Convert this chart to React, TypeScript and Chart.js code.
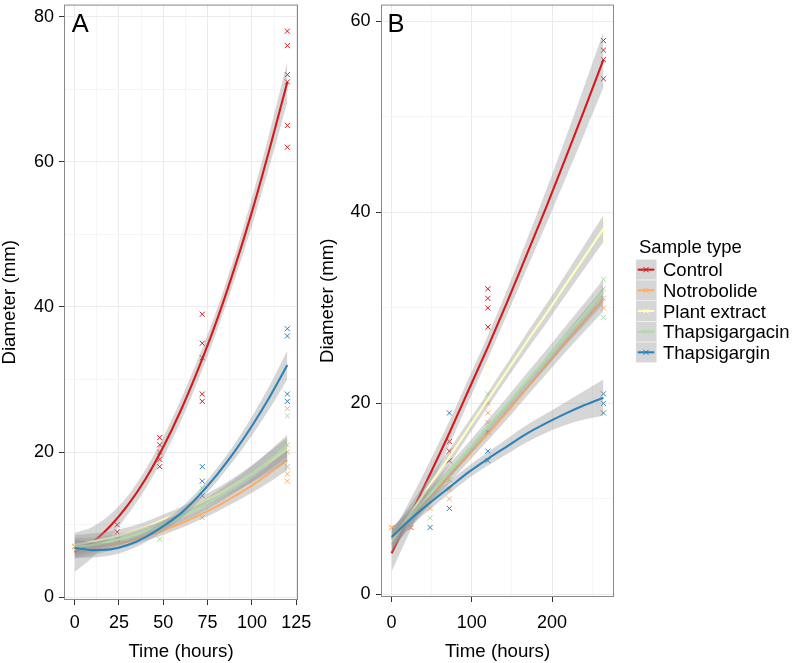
import React, { useEffect, useRef } from 'react';
import { Chart, registerables } from 'chart.js';

Chart.register(...registerables);

type Pt = [number, number];

// ---------------- data ----------------
const seriesNames = ['Control', 'Notrobolide', 'Plant extract', 'Thapsigargacin', 'Thapsigargin'];

// Panel A axes
const xMajorA = [0, 25, 50, 75, 100, 125];
const xMinorA = [12.5, 37.5, 62.5, 87.5, 112.5];
const yMajorA = [0, 20, 40, 60, 80];
const yMinorA = [10, 30, 50, 70];

// Panel A observations [time, diameter]
const ptsA_Control: Pt[] = [[0, 7], [24, 10], [24, 9], [24, 8], [48, 22], [48, 21], [48, 20], [48, 19], [48, 18], [72, 39], [72, 35], [72, 33], [72, 28], [72, 27], [120, 78], [120, 76], [120, 72], [120, 71], [120, 65], [120, 62]];
const ptsA_Notrobolide: Pt[] = [[0, 7], [72, 11], [120, 26], [120, 20], [120, 18], [120, 17], [120, 16]];
const ptsA_PlantExtract: Pt[] = [[72, 17], [72, 13], [120, 21]];
const ptsA_Thapsigargacin: Pt[] = [[48, 8], [72, 15], [120, 25], [120, 21]];
const ptsA_Thapsigargin: Pt[] = [[72, 18], [72, 16], [72, 14], [120, 37], [120, 36], [120, 28], [120, 27]];

// Panel A smooth fits and standard-error half widths
const fitTimeA = [0, 10, 20, 30, 40, 50, 60, 70, 80, 90, 100, 110, 120];
const fitA_Control = [6.2, 7.6, 9.8, 12.7, 16.3, 20.7, 25.8, 31.6, 38.0, 45.2, 53.1, 61.8, 71.0];
const seA_Control = [2.7, 2.1, 1.6, 1.3, 1.3, 1.4, 1.5, 1.5, 1.5, 1.6, 1.9, 2.3, 2.8];
const fitA_Notrobolide = [6.6, 6.8, 7.2, 7.7, 8.4, 9.2, 10.2, 11.3, 12.5, 13.9, 15.4, 17.1, 18.9];
const seA_Notrobolide = [1.3, 1.0, 0.8, 0.7, 0.6, 0.6, 0.65, 0.7, 0.75, 0.85, 1.0, 1.2, 1.4];
const fitA_PlantExtract = [7.2, 7.7, 8.2, 8.9, 9.7, 10.7, 11.7, 12.9, 14.1, 15.5, 17.0, 18.7, 20.4];
const seA_PlantExtract = [1.4, 1.1, 0.9, 0.75, 0.7, 0.7, 0.75, 0.8, 0.9, 1.0, 1.2, 1.4, 1.6];
const fitA_Thapsigargacin = [6.9, 7.2, 7.7, 8.3, 9.1, 10.0, 11.1, 12.3, 13.7, 15.3, 17.0, 18.9, 20.9];
const seA_Thapsigargacin = [1.3, 1.0, 0.85, 0.7, 0.65, 0.65, 0.7, 0.75, 0.85, 0.95, 1.1, 1.3, 1.5];
const fitA_Thapsigargin = [6.8, 6.5, 6.6, 7.2, 8.3, 9.8, 11.6, 14.0, 16.8, 20.0, 23.6, 27.6, 32.0];
const seA_Thapsigargin = [1.3, 1.0, 0.85, 0.75, 0.7, 0.7, 0.75, 0.8, 0.9, 1.05, 1.3, 1.6, 2.0];

// Panel B axes
const xMajorB = [0, 100, 200];
const xMinorB = [50, 150, 250];
const yMajorB = [0, 20, 40, 60];
const yMinorB = [10, 30, 50];

// Panel B observations
const ptsB_Control: Pt[] = [[0, 7], [24, 7], [72, 16], [72, 15], [72, 14], [120, 32], [120, 31], [120, 30], [120, 28], [264, 58], [264, 57], [264, 56], [264, 54]];
const ptsB_Notrobolide: Pt[] = [[0, 7], [24, 7], [48, 9], [72, 12], [72, 11], [72, 10], [120, 20], [120, 19], [120, 18], [264, 31], [264, 30]];
const ptsB_PlantExtract: Pt[] = [[72, 13], [120, 24], [120, 23], [120, 22], [264, 40], [264, 39], [264, 38], [264, 37]];
const ptsB_Thapsigargacin: Pt[] = [[48, 8], [72, 12], [120, 21], [264, 33], [264, 32], [264, 29]];
const ptsB_Thapsigargin: Pt[] = [[48, 7], [72, 19], [72, 9], [120, 17], [120, 15], [120, 14], [264, 21], [264, 20], [264, 19]];

const fitTimeB = [0, 24, 48, 72, 96, 120, 144, 168, 192, 216, 240, 264];
const fitB_Control = [4.3, 8.4, 12.6, 16.9, 21.4, 25.9, 30.6, 35.5, 40.4, 45.5, 50.7, 56.0];
const seB_Control = [1.9, 1.6, 1.4, 1.25, 1.2, 1.2, 1.3, 1.5, 1.8, 2.1, 2.5, 2.9];
const fitB_Notrobolide = [5.8, 8.0, 10.2, 12.4, 14.6, 16.8, 19.1, 21.5, 23.9, 26.3, 28.6, 30.9];
const seB_Notrobolide = [1.1, 0.95, 0.85, 0.75, 0.7, 0.7, 0.75, 0.8, 0.9, 1.0, 1.1, 1.25];
const fitB_PlantExtract = [5.5, 8.5, 11.5, 14.4, 17.4, 20.4, 23.4, 26.4, 29.3, 32.3, 35.3, 38.3];
const seB_PlantExtract = [1.2, 1.0, 0.9, 0.8, 0.75, 0.75, 0.8, 0.9, 1.0, 1.1, 1.25, 1.4];
const fitB_Thapsigargacin = [5.8, 8.2, 10.5, 12.9, 15.2, 17.6, 19.9, 22.3, 24.6, 27.0, 29.3, 31.7];
const seB_Thapsigargacin = [1.1, 0.95, 0.85, 0.75, 0.7, 0.7, 0.75, 0.8, 0.9, 1.0, 1.15, 1.3];
const fitB_Thapsigargin = [6.0, 7.9, 9.6, 11.2, 12.8, 14.2, 15.5, 16.8, 17.9, 18.9, 19.8, 20.6];
const seB_Thapsigargin = [0.95, 0.8, 0.7, 0.65, 0.65, 0.7, 0.8, 0.9, 1.0, 1.2, 1.5, 1.9];

// ---------------- styles ----------------
const COLORS = ['#D7191C', '#FDAE61', '#FFFFBF', '#ABDDA4', '#2B83BA'];
const RIBBON = 'rgba(153,153,153,0.4)';
const FONT = "'Liberation Sans', Arial, Helvetica, sans-serif";

function buildDatasets(pts: Pt[][], fitT: number[], fits: number[][], ses: number[][]) {
  const ds: any[] = [];
  let seq = 0;
  const nextOrder = () => 1000 - seq++;
  pts.forEach((p, i) => {
    ds.push({
      type: 'line',
      label: seriesNames[i],
      data: p.map(([x, y]) => ({ x, y })),
      showLine: false,
      pointStyle: 'crossRot',
      pointRadius: 3.6,
      pointHoverRadius: 3.6,
      pointBorderWidth: 1,
      borderColor: COLORS[i],
      backgroundColor: COLORS[i],
      order: nextOrder(),
    });
  });
  fits.forEach((f, i) => {
    const up = fitT.map((t, k) => ({ x: t, y: f[k] + ses[i][k] }));
    const lo = fitT.map((t, k) => ({ x: t, y: f[k] - ses[i][k] }));
    const mid = fitT.map((t, k) => ({ x: t, y: f[k] }));
    ds.push({
      type: 'line', data: up, borderWidth: 0, borderColor: 'rgba(0,0,0,0)', pointRadius: 0,
      fill: '+1', backgroundColor: RIBBON, cubicInterpolationMode: 'monotone', order: nextOrder(),
    });
    ds.push({
      type: 'line', data: lo, borderWidth: 0, borderColor: 'rgba(0,0,0,0)', pointRadius: 0,
      fill: false, cubicInterpolationMode: 'monotone', order: nextOrder(),
    });
    ds.push({
      type: 'line', label: seriesNames[i], data: mid, borderWidth: 2.1, borderColor: COLORS[i], pointRadius: 0,
      fill: false, cubicInterpolationMode: 'monotone', order: nextOrder(),
    });
  });
  return ds;
}

function axis(major: number[], minor: number[], min: number, max: number, size: number, tickPad: number, title: any) {
  const all = [...major, ...minor].sort((a, b) => a - b);
  const isMajor = (v: number) => major.includes(v);
  return {
    type: 'linear',
    min,
    max,
    afterBuildTicks: (s: any) => {
      s.ticks = all.map((v) => ({ value: v }));
    },
    afterFit: (s: any) => {
      if (s.isHorizontal()) s.height = size;
      else s.width = size;
      s.paddingLeft = 0;
      s.paddingRight = 0;
      s.paddingTop = 0;
      s.paddingBottom = 0;
    },
    grid: {
      color: (c: any) => (c.tick && isMajor(c.tick.value) ? '#EBEBEB' : '#F5F5F5'),
      lineWidth: 1,
      tickColor: (c: any) => (c.tick && isMajor(c.tick.value) ? '#333333' : 'rgba(0,0,0,0)'),
      tickLength: 5,
      drawTicks: true,
    },
    border: { display: false },
    ticks: {
      autoSkip: false,
      maxRotation: 0,
      minRotation: 0,
      padding: tickPad,
      color: '#000000',
      font: { family: FONT, size: 18 },
      callback: (v: number) => (isMajor(v) ? String(v) : ''),
    },
    title,
  };
}

const borderPlugin = {
  id: 'panelBorder',
  afterDatasetsDraw(chart: any) {
    const { ctx, chartArea: a } = chart;
    ctx.save();
    ctx.strokeStyle = '#888888';
    ctx.lineWidth = 1;
    ctx.strokeRect(a.left + 0.5, a.top + 0.5, a.right - a.left - 1, a.bottom - a.top - 1);
    ctx.restore();
  },
};

function panelLabelPlugin(text: string, dx: number) {
  return {
    id: 'panelLabel' + text,
    afterDraw(chart: any) {
      const { ctx, chartArea: a } = chart;
      ctx.save();
      ctx.fillStyle = '#000';
      ctx.font = `25.5px ${FONT}`;
      ctx.textBaseline = 'alphabetic';
      ctx.textAlign = 'left';
      ctx.fillText(text, a.left + dx, 31.7);
      ctx.restore();
    },
  };
}

const legendPlugin = {
  id: 'ggLegend',
  afterDraw(chart: any) {
    const ctx = chart.ctx;
    const x0 = 336;
    const y0 = 259.3;
    const h = 20.67;
    ctx.save();
    ctx.fillStyle = '#000';
    ctx.font = `18.5px ${FONT}`;
    ctx.textBaseline = 'alphabetic';
    ctx.textAlign = 'left';
    ctx.fillText('Sample type', 339, 253.3);
    seriesNames.forEach((name, i) => {
      const top = y0 + i * h;
      const cy = top + h / 2;
      ctx.fillStyle = RIBBON;
      ctx.fillRect(x0, top + 0.3, 20.5, h - 0.6);
      ctx.strokeStyle = COLORS[i];
      ctx.lineWidth = 2.1;
      ctx.beginPath();
      ctx.moveTo(x0 + 1.7, cy);
      ctx.lineTo(x0 + 18.3, cy);
      ctx.stroke();
      ctx.lineWidth = 1;
      const r = 2.6;
      ctx.beginPath();
      ctx.moveTo(x0 + 10 - r, cy - r);
      ctx.lineTo(x0 + 10 + r, cy + r);
      ctx.moveTo(x0 + 10 - r, cy + r);
      ctx.lineTo(x0 + 10 + r, cy - r);
      ctx.stroke();
      ctx.fillStyle = '#000';
      ctx.fillText(name, 363, cy + 6.6);
    });
    ctx.restore();
  },
};

function makeConfig(panel: 'A' | 'B'): any {
  const isA = panel === 'A';
  const datasets = isA
    ? buildDatasets(
        [ptsA_Control, ptsA_Notrobolide, ptsA_PlantExtract, ptsA_Thapsigargacin, ptsA_Thapsigargin],
        fitTimeA,
        [fitA_Control, fitA_Notrobolide, fitA_PlantExtract, fitA_Thapsigargacin, fitA_Thapsigargin],
        [seA_Control, seA_Notrobolide, seA_PlantExtract, seA_Thapsigargacin, seA_Thapsigargin]
      )
    : buildDatasets(
        [ptsB_Control, ptsB_Notrobolide, ptsB_PlantExtract, ptsB_Thapsigargacin, ptsB_Thapsigargin],
        fitTimeB,
        [fitB_Control, fitB_Notrobolide, fitB_PlantExtract, fitB_Thapsigargacin, fitB_Thapsigargin],
        [seB_Control, seB_Notrobolide, seB_PlantExtract, seB_Thapsigargacin, seB_Thapsigargin]
      );
  const titleFont = { family: FONT, size: 18.7, lineHeight: 1 };
  const xTitle = { display: true, text: 'Time (hours)', color: '#000', font: titleFont, padding: { top: 0, bottom: 1.8 } };
  const yTitle = (pt: number) => ({ display: true, text: 'Diameter (mm)', color: '#000', font: titleFont, padding: { top: pt, bottom: 0 } });
  return {
    type: 'line',
    data: { datasets },
    options: {
      animation: false,
      responsive: false,
      maintainAspectRatio: false,
      events: [],
      layout: { padding: isA ? { left: 0, right: 32, top: 2, bottom: 0 } : { left: 0, right: 179, top: 2, bottom: 0 } },
      scales: isA
        ? {
            x: axis(xMajorA, xMinorA, -6, 126, 63, 7, xTitle),
            y: axis(yMajorA, yMinorA, -0.37, 81.65, 64, 5, yTitle(0.5)),
          }
        : {
            x: axis(xMajorB, xMinorB, -13.2, 277.2, 66, 10, xTitle),
            y: axis(yMajorB, yMinorB, -0.28, 61.77, 81, 5.5, yTitle(19)),
          },
      plugins: {
        legend: { display: false },
        tooltip: { enabled: false },
        filler: { drawTime: 'beforeDatasetDraw', propagate: false },
      },
    },
    plugins: isA ? [borderPlugin, panelLabelPlugin('A', 7.7)] : [borderPlugin, panelLabelPlugin('B', 6.5), legendPlugin],
  };
}

function Panel({ panel, width, left }: { panel: 'A' | 'B'; width: number; left: number }) {
  const ref = useRef<HTMLCanvasElement | null>(null);
  useEffect(() => {
    if (!ref.current) return;
    const chart = new Chart(ref.current, makeConfig(panel));
    return () => chart.destroy();
  }, [panel]);
  return (
    <canvas
      ref={ref}
      width={width}
      height={663}
      style={{ position: 'absolute', left, top: 0, width, height: 663 }}
    />
  );
}

export default function App() {
  return (
    <div style={{ position: 'absolute', left: 0, top: 0, width: 793, height: 663, background: '#fff', overflow: 'hidden' }}>
      <Panel panel="A" width={330} left={0} />
      <Panel panel="B" width={493} left={300} />
    </div>
  );
}
